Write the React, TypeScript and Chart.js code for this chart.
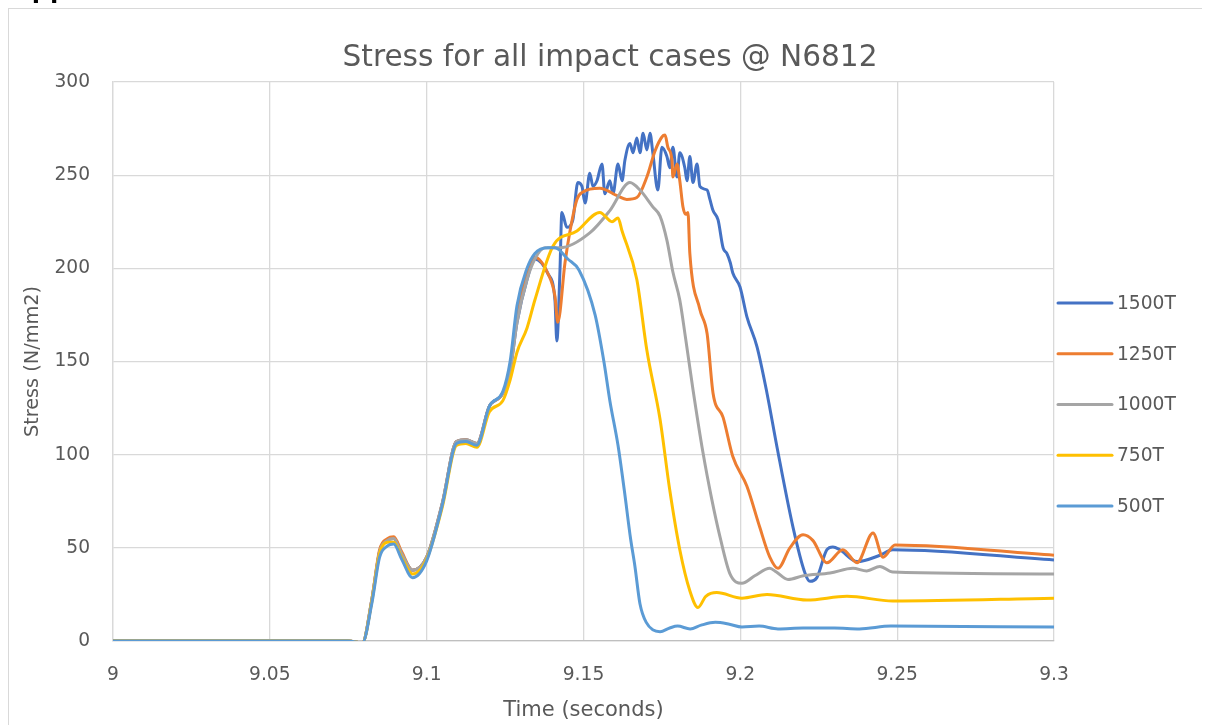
import React, { useEffect, useRef } from "react";
import { Chart, registerables } from "chart.js";

Chart.register(...registerables);

// ---------- DATA ----------
const seriesNames = ["1500T", "1250T", "1000T", "750T", "500T"];

const t1500 = [9.0, 9.075, 9.0795, 9.0825, 9.085, 9.0875, 9.0895, 9.092, 9.0955, 9.1, 9.105, 9.1095, 9.1125, 9.116, 9.12, 9.1243, 9.1266, 9.1288, 9.132, 9.1345,
  9.1387, 9.1409, 9.1415, 9.1425, 9.1431, 9.1447, 9.1466, 9.1482, 9.1495, 9.1505, 9.152, 9.153, 9.1543, 9.1559, 9.1568, 9.1584, 9.1594, 9.161, 9.1623, 9.1632,
  9.1648, 9.1658, 9.167, 9.168, 9.169, 9.1702, 9.1712, 9.1721, 9.1737, 9.175, 9.1766, 9.1775, 9.1785, 9.1798, 9.1807, 9.1823, 9.183, 9.1839, 9.1849, 9.1862,
  9.1871, 9.1894, 9.1903, 9.1913, 9.1929, 9.1945, 9.1957, 9.1968, 9.1976, 9.1999, 9.2021, 9.2053, 9.2085, 9.2117, 9.2168, 9.2206, 9.2222, 9.2244, 9.2276, 9.2295,
  9.2317, 9.2372, 9.2445, 9.2486, 9.3];
const v1500 = [0, 0, -1, 22, 48, 54, 55, 47, 38, 45, 74, 107, 108, 106, 126, 133, 145, 171, 194, 205,
  197, 183, 161, 199, 230, 222, 226, 246, 244, 235, 251, 244, 247, 256, 240, 247, 240, 256, 247, 258,
  267, 262, 270, 262, 272.5, 263.5, 272.5, 262, 242, 265, 260, 254, 265, 249, 262, 254, 247, 260, 246, 256,
  244, 242, 237, 231, 226, 211, 208, 203, 197.5, 190, 174, 158, 133, 104, 61, 36.5, 32, 34, 49, 50.5,
  49, 42.6, 46, 49, 43.5];

const t1250 = [9.0, 9.075, 9.0795, 9.0825, 9.085, 9.0875, 9.0895, 9.092, 9.0955, 9.1, 9.105, 9.1095, 9.1125, 9.116, 9.12, 9.1243, 9.1266, 9.1288, 9.132, 9.1345,
  9.1387, 9.1409, 9.1418, 9.1441, 9.1457, 9.1479, 9.1498, 9.1552, 9.1607, 9.1638, 9.167, 9.1702, 9.1728, 9.175, 9.176,
  9.1769, 9.1782, 9.1785, 9.1798, 9.1807, 9.1817, 9.1826, 9.1833, 9.1839, 9.1871, 9.1894, 9.1913, 9.1945, 9.1976, 9.2021,
  9.2062, 9.2094, 9.212, 9.2158, 9.22, 9.2231, 9.2276, 9.2327, 9.2372, 9.2423, 9.2455, 9.2493, 9.3];
const v1250 = [0, 0, -1, 22, 49, 55, 56, 48, 38, 45, 74, 107, 108, 106, 126, 133, 146, 174, 198, 206,
  197, 185, 171, 203, 220, 237, 241, 243, 239, 237, 238, 249, 263, 270.5, 271.5,
  265, 258, 249, 256, 247, 233, 229, 230, 208, 178, 165, 133, 120, 99, 83,
  61, 45, 39, 50, 57, 54, 42, 49, 42, 58, 45, 51.5, 46];

const t1000 = [9.0, 9.075, 9.0795, 9.0825, 9.085, 9.0875, 9.0895, 9.092, 9.0955, 9.1, 9.105, 9.1095, 9.1125, 9.116, 9.12, 9.1243, 9.1266, 9.1288, 9.132, 9.1345,
  9.1377, 9.1425, 9.152, 9.1584, 9.1648, 9.168, 9.1721, 9.1744, 9.1766, 9.1785,
  9.1807, 9.1825, 9.1849, 9.1881, 9.1909, 9.1935, 9.1967, 9.2005, 9.2046,
  9.2094, 9.2115, 9.2152, 9.2201, 9.2286, 9.2359, 9.2403, 9.2445, 9.2486, 9.3];
const v1000 = [0, 0, -1, 22, 48, 54, 55, 47, 38, 45, 74, 107, 108, 106, 126, 133, 145, 171, 194, 205,
  211, 211, 219, 231, 246, 242, 233, 228, 215, 198,
  183, 163, 135, 101, 76, 56, 36, 31, 35,
  39, 37, 33, 35, 36.5, 39, 37.6, 40, 37, 36];

const t750 = [9.0, 9.075, 9.0795, 9.0825, 9.085, 9.0875, 9.0895, 9.092, 9.0955, 9.1, 9.105, 9.1095, 9.1125, 9.116, 9.12, 9.1243, 9.1266, 9.1288, 9.132, 9.1345,
  9.1403, 9.1479, 9.1552, 9.1591, 9.161, 9.1623, 9.167, 9.1702, 9.1744, 9.1775,
  9.1807, 9.1839, 9.1865, 9.189, 9.1925, 9.2005, 9.2085, 9.2212, 9.234, 9.2486, 9.3];
const v750 = [0, 0, -1, 21, 47, 53, 53, 45, 36, 44, 72, 105, 106, 104, 123, 129, 140, 155, 168, 183,
  212, 220, 230, 225, 227, 220, 194, 156, 119, 81,
  49, 27, 18, 24, 26, 23, 25, 22, 24, 21.5, 23];

const t500 = [9.0, 9.075, 9.0795, 9.0825, 9.085, 9.0875, 9.0895, 9.092, 9.0955, 9.1, 9.105, 9.1095, 9.1125, 9.116, 9.12, 9.1243, 9.1266, 9.1288, 9.132, 9.1345,
  9.1387, 9.1409, 9.145, 9.1486, 9.1537, 9.1565, 9.1584, 9.161, 9.163, 9.165,
  9.1664, 9.168, 9.17, 9.1744, 9.1775, 9.18, 9.184, 9.1875, 9.192, 9.1965,
  9.2005, 9.206, 9.212, 9.22, 9.23, 9.238, 9.248, 9.3];
const v500 = [0, 0, -1, 20, 45, 51, 52, 44, 34, 43, 73, 106, 107, 105, 126, 134, 150, 180, 200, 208,
  211, 211, 205, 199, 175, 150, 129, 105, 81, 55,
  40, 20, 10, 5, 7, 8, 6.5, 8.5, 10, 9,
  7.5, 8, 6.5, 7, 7, 6.5, 8, 7.5];

const seriesTimes = [t1500, t1250, t1000, t750, t500];
const seriesValues = [v1500, v1250, v1000, v750, v500];

const chartTitle = "Stress for all impact cases @ N6812";
const xAxisTitle = "Time (seconds)";
const yAxisTitle = "Stress (N/mm2)";
const xRange = [9, 9.3];
const xStep = 0.05;
const yRange = [0, 300];
const yStep = 50;

// ---------- STYLE ----------
const lineColors = ["#4472C4", "#ED7D31", "#A5A5A5", "#FFC000", "#5B9BD5"];
const FONT = "'DejaVu Sans', sans-serif";
const TEXT = "#595959";
const GRID = "#d9d9d9";

const decorations = {
  id: "decorations",
  afterDraw(chart: any) {
    const { ctx, chartArea, width } = chart;
    ctx.save();
    ctx.font = `29.6px ${FONT}`;
    ctx.fillStyle = TEXT;
    ctx.textAlign = "center";
    ctx.textBaseline = "middle";
    ctx.fillText(chartTitle, width / 2 + 0.5, 49);
    ctx.font = `18.67px ${FONT}`;
    chart.data.datasets.forEach((ds: any, i: number) => {
      const y = chartArea.top + 221 + i * 50.75;
      const x0 = chartArea.right + 4;
      ctx.strokeStyle = ds.borderColor;
      ctx.lineWidth = 3;
      ctx.lineCap = "round";
      ctx.beginPath();
      ctx.moveTo(x0, y);
      ctx.lineTo(x0 + 54, y);
      ctx.stroke();
      ctx.fillStyle = TEXT;
      ctx.textBaseline = "middle";
      ctx.textAlign = "left";
      ctx.fillText(ds.label, x0 + 59, y + 1);
    });
    ctx.restore();
  },
};

export default function App() {
  const ref = useRef<HTMLCanvasElement>(null);

  useEffect(() => {
    document.documentElement.style.overflow = "hidden";
    document.body.style.overflow = "hidden";
    const datasets = seriesNames.map((name, i) => ({
      label: name,
      data: seriesTimes[i].map((t, j) => ({ x: t, y: seriesValues[i][j] })),
      borderColor: lineColors[i],
      backgroundColor: lineColors[i],
      borderWidth: 3,
      pointRadius: 0,
      pointHoverRadius: 0,
      cubicInterpolationMode: "monotone" as const,
      order: seriesNames.length - 1 - i,
    }));
    const chart = new Chart(ref.current!, {
      type: "line",
      data: { datasets },
      plugins: [decorations],
      options: {
        animation: false,
        responsive: false,
        events: [],
        layout: { padding: { left: 0, right: 156, top: 73, bottom: 0 } },
        plugins: {
          legend: { display: false },
          tooltip: { enabled: false },
          title: { display: false },
        },
        scales: {
          x: {
            type: "linear",
            min: xRange[0],
            max: xRange[1],
            ticks: {
              stepSize: xStep,
              color: TEXT,
              font: { family: FONT, size: 18.67 },
              padding: 23,
              maxRotation: 0,
              autoSkip: false,
              callback: (v: any) => String(Math.round(Number(v) * 100) / 100),
            },
            grid: { color: GRID, lineWidth: 1.3, drawTicks: false },
            border: { color: "#bfbfbf", width: 1.3 },
            title: {
              display: true,
              text: xAxisTitle,
              color: TEXT,
              font: { family: FONT, size: 21 },
              padding: { top: 0, bottom: 1.5 },
            },
            afterFit: (s: any) => {
              s.height = 84;
            },
          },
          y: {
            type: "linear",
            min: yRange[0],
            max: yRange[1],
            ticks: {
              stepSize: yStep,
              color: TEXT,
              font: { family: FONT, size: 18.67 },
              padding: 23,
            },
            grid: { color: GRID, lineWidth: 1.3, drawTicks: false },
            border: { color: GRID, width: 1.3 },
            title: {
              display: true,
              text: yAxisTitle,
              color: TEXT,
              font: { family: FONT, size: 19.3 },
              padding: { top: 12.4, bottom: 0 },
            },
            afterFit: (s: any) => {
              s.width = 104;
            },
          },
        },
      } as any,
    });
    return () => chart.destroy();
  }, []);

  return (
    <div style={{ position: "relative", width: 1230, height: 740 }}>
      <div
        style={{
          position: "absolute",
          left: 0,
          top: 0,
          width: 1230,
          height: 740,
          border: "1px solid #d9d9d9",
          boxSizing: "border-box",
          background: "#fff",
        }}
      >
        <canvas ref={ref} width={1201} height={716} style={{ display: "block", width: 1201, height: 716 }} />
      </div>
      <div
        style={{
          position: "fixed",
          left: 0,
          top: 0,
          width: 300,
          height: 6,
          overflow: "hidden",
          zIndex: 10,
        }}
      >
        <span
          style={{
            position: "absolute",
            left: 10,
            top: -28,
            fontFamily: "'Liberation Sans', Arial, sans-serif",
            fontWeight: 700,
            fontSize: 30,
            lineHeight: "30px",
            color: "#000000",
            whiteSpace: "nowrap",
          }}
        >
          Appendix
        </span>
      </div>
    </div>
  );
}
